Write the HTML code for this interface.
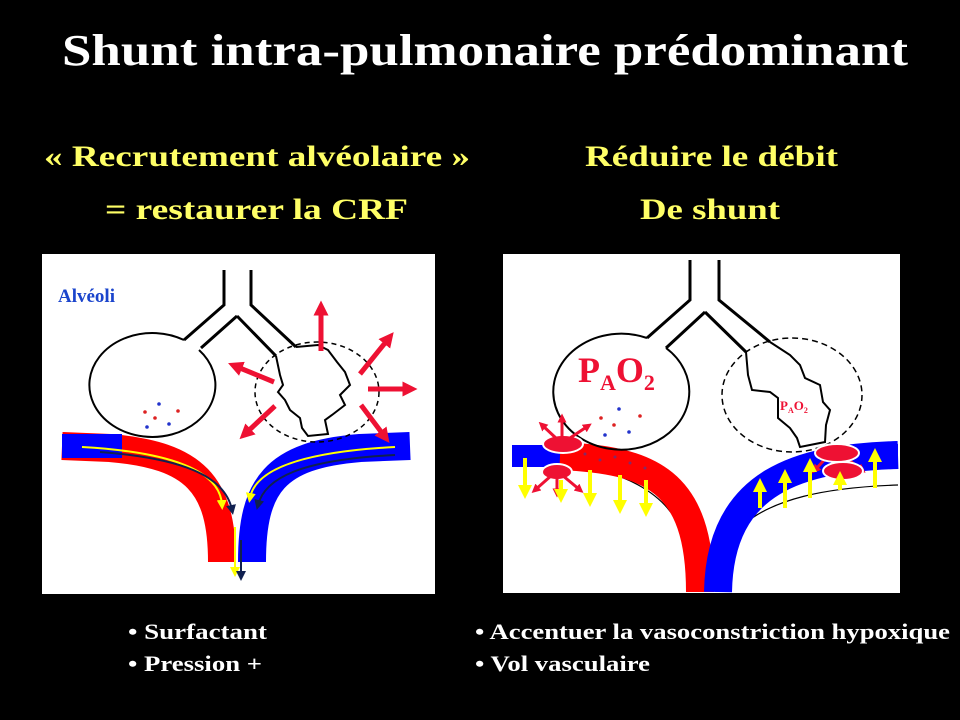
<!DOCTYPE html>
<html><head><meta charset="utf-8"><style>html,body{margin:0;padding:0;background:#000}svg{display:block}</style></head>
<body>
<svg width="960" height="720" viewBox="0 0 960 720" xmlns="http://www.w3.org/2000/svg" font-family="'Liberation Serif', serif" font-weight="bold">
<defs>
<marker id="ar" viewBox="0 0 10 10" refX="5" refY="5" markerWidth="3" markerHeight="3" orient="auto"><path d="M0,0 L10,5 L0,10 z" fill="#ee1133"/></marker>
<marker id="ay" viewBox="0 0 10 10" refX="5" refY="5" markerWidth="3.5" markerHeight="3.5" orient="auto"><path d="M0,0 L10,5 L0,10 z" fill="#ffff00"/></marker>
<marker id="ays" viewBox="0 0 10 10" refX="5" refY="5" markerWidth="5" markerHeight="5" orient="auto"><path d="M0,0 L10,5 L0,10 z" fill="#ffff00"/></marker>
<marker id="anv" viewBox="0 0 10 10" refX="5" refY="5" markerWidth="5" markerHeight="5" orient="auto"><path d="M0,0 L10,5 L0,10 z" fill="#102050"/></marker>
</defs>
<rect width="960" height="720" fill="#000"/>
<text x="485" y="65" fill="#fff" font-size="44" text-anchor="middle" textLength="846" lengthAdjust="spacingAndGlyphs">Shunt intra-pulmonaire prédominant</text>
<g fill="#ffff66" font-size="30">
<text x="44" y="166" textLength="426" lengthAdjust="spacingAndGlyphs">« Recrutement  alvéolaire »</text>
<text x="105" y="219" textLength="303" lengthAdjust="spacingAndGlyphs">= restaurer la CRF</text>
<text x="585" y="166" textLength="253" lengthAdjust="spacingAndGlyphs">Réduire le débit</text>
<text x="640" y="219" textLength="140" lengthAdjust="spacingAndGlyphs">De shunt</text>
</g>
<g fill="#fff" font-size="22">
<text x="128" y="639" textLength="139" lengthAdjust="spacingAndGlyphs">• Surfactant</text>
<text x="128" y="671" textLength="134" lengthAdjust="spacingAndGlyphs">• Pression +</text>
<text x="475" y="639" textLength="475" lengthAdjust="spacingAndGlyphs">• Accentuer la vasoconstriction hypoxique</text>
<text x="475" y="671" textLength="175" lengthAdjust="spacingAndGlyphs">• Vol vasculaire</text>
</g>

<!-- LEFT PANEL -->
<rect x="42" y="254" width="393" height="340" fill="#fff"/>
<text x="58" y="302" fill="#1a44cc" font-size="19">Alvéoli</text>
<path d="M62,446 L110,448 C195,455 222,485 222,562" fill="none" stroke="#ff0000" stroke-width="28"/>
<path d="M410,446 L360,448 C275,455 252,485 252,562" fill="none" stroke="#0000ff" stroke-width="28"/>
<rect x="62" y="434" width="60" height="24" fill="#0000ff"/>
<path d="M82,447 C170,452 220,470 222,505" fill="none" stroke="#ffff00" stroke-width="2" marker-end="url(#ays)"/>
<path d="M395,447 C300,452 255,470 250,498" fill="none" stroke="#ffff00" stroke-width="2" marker-end="url(#ays)"/>
<path d="M100,452 C180,458 225,475 232,510" fill="none" stroke="#102050" stroke-width="2" marker-end="url(#anv)"/>
<path d="M395,455 C300,460 265,478 258,505" fill="none" stroke="#102050" stroke-width="2" marker-end="url(#anv)"/>
<line x1="235" y1="527" x2="235" y2="572" stroke="#ffff00" stroke-width="2" marker-end="url(#ays)"/>
<line x1="241" y1="540" x2="241" y2="576" stroke="#102050" stroke-width="2" marker-end="url(#anv)"/>
<path d="M224,270 L224,305 L184,340 M251,270 L251,305 L296,347 M237,316 L201,348 M237,316 L276,356" fill="none" stroke="#000" stroke-width="3"/>
<path d="M184,340 A63,52 0 1 0 199,350" fill="none" stroke="#000" stroke-width="2"/>
<ellipse cx="317" cy="392" rx="62" ry="50" fill="none" stroke="#000" stroke-width="1.5" stroke-dasharray="5,4"/>
<path d="M276,356 L280,375 283,385 278,392 285,400 290,410 300,418 302,428 308,436 328,434 325,420 332,415 345,405 340,395 350,385 345,372 337,362 328,350 318,345 296,347" fill="none" stroke="#000" stroke-width="2"/>
<g fill="#dd2222"><circle cx="145" cy="412" r="1.8"/><circle cx="178" cy="411" r="1.8"/><circle cx="155" cy="418" r="1.8"/></g>
<g fill="#2233cc"><circle cx="159" cy="404" r="1.8"/><circle cx="147" cy="427" r="1.8"/><circle cx="169" cy="424" r="1.8"/></g>
<g stroke="#ee1133" stroke-width="5" marker-end="url(#ar)">
<line x1="321" y1="351" x2="321" y2="308"/>
<line x1="360" y1="374" x2="389" y2="338"/>
<line x1="368" y1="389" x2="410" y2="389"/>
<line x1="361" y1="405" x2="385" y2="437"/>
<line x1="274" y1="382" x2="235" y2="366"/>
<line x1="275" y1="406" x2="245" y2="434"/>
</g>

<!-- RIGHT PANEL -->
<rect x="503" y="254" width="397" height="339" fill="#fff"/>
<path d="M512,460 C600,462 700,480 690,592 M898,485 C840,487 760,495 730,540 C720,555 716,560 716,592" fill="none" stroke="#000" stroke-width="1.2"/>
<rect x="512" y="445" width="60" height="22" fill="#0000ff"/>
<path d="M560,456 C650,460 700,480 700,592" fill="none" stroke="#ff0000" stroke-width="28"/>
<path d="M898,455 C800,458 720,480 718,592" fill="none" stroke="#0000ff" stroke-width="28"/>
<rect x="860" y="444" width="38" height="22" fill="#0000ff"/>
<g fill="#3344aa" opacity="0.6"><circle cx="585" cy="454" r="1.5"/><circle cx="600" cy="460" r="1.5"/><circle cx="615" cy="457" r="1.5"/><circle cx="630" cy="463" r="1.5"/><circle cx="645" cy="468" r="1.5"/></g>
<path d="M690,260 L690,300 L647,338 M719,260 L719,300 L770,342 M705,312 L666,348 M705,312 L746,352" fill="none" stroke="#000" stroke-width="3"/>
<path d="M647,338 A68,58 0 1 0 666,348" fill="none" stroke="#000" stroke-width="2"/>
<ellipse cx="792" cy="395" rx="70" ry="57" fill="none" stroke="#000" stroke-width="1.5" stroke-dasharray="6,4"/>
<path d="M746,352 L748,375 752,390 770,392 778,398 778,418 790,428 797,438 800,447 825,442 826,425 830,410 823,402 820,385 805,378 800,365 790,355 770,342" fill="none" stroke="#000" stroke-width="2"/>
<text x="578" y="382" fill="#ee1133" font-size="36">P<tspan font-size="22" dy="8">A</tspan><tspan dy="-8">O</tspan><tspan font-size="22" dy="8">2</tspan></text>
<text x="780" y="410" fill="#ee1133" font-size="13">P<tspan font-size="8" dy="3">A</tspan><tspan dy="-3">O</tspan><tspan font-size="8" dy="3">2</tspan></text>
<g fill="#dd2222"><circle cx="601" cy="418" r="1.8"/><circle cx="640" cy="416" r="1.8"/><circle cx="614" cy="425" r="1.8"/></g>
<g fill="#2233cc"><circle cx="619" cy="409" r="1.8"/><circle cx="605" cy="435" r="1.8"/><circle cx="629" cy="432" r="1.8"/></g>
<ellipse cx="563" cy="444" rx="20" ry="9" fill="#ee1133" stroke="#fff" stroke-width="2"/>
<ellipse cx="557" cy="472" rx="15" ry="8" fill="#ee1133" stroke="#fff" stroke-width="2"/>
<g stroke="#ee1133" stroke-width="3" marker-end="url(#ar)">
<line x1="558" y1="440" x2="542" y2="425"/><line x1="562" y1="440" x2="562" y2="418"/><line x1="567" y1="440" x2="588" y2="426"/>
<line x1="552" y1="475" x2="535" y2="490"/><line x1="557" y1="476" x2="557" y2="493"/><line x1="562" y1="475" x2="580" y2="490"/>
<line x1="826" y1="458" x2="815" y2="470"/><line x1="846" y1="458" x2="862" y2="470"/>
</g>
<ellipse cx="837" cy="453" rx="22" ry="9" fill="#ee1133" stroke="#fff" stroke-width="2"/>
<ellipse cx="843" cy="471" rx="20" ry="9" fill="#ee1133" stroke="#fff" stroke-width="2"/>
<g stroke="#ffff00" stroke-width="4" marker-end="url(#ay)">
<line x1="525" y1="458" x2="525" y2="492"/><line x1="561" y1="480" x2="561" y2="496"/><line x1="590" y1="470" x2="590" y2="500"/><line x1="620" y1="475" x2="620" y2="507"/><line x1="646" y1="480" x2="646" y2="510"/>
<line x1="760" y1="508" x2="760" y2="485"/><line x1="785" y1="508" x2="785" y2="476"/><line x1="810" y1="498" x2="810" y2="465"/><line x1="840" y1="490" x2="840" y2="478"/><line x1="875" y1="488" x2="875" y2="455"/>
</g>
</svg>
</body></html>
